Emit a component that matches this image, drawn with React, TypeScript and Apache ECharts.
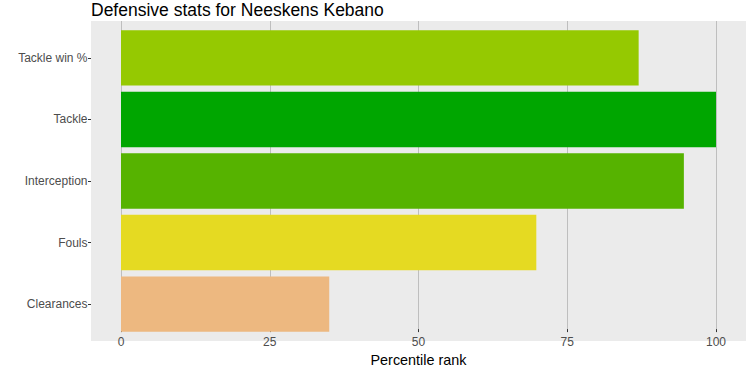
import React, { useEffect, useRef } from "react";
import * as echarts from "echarts";

const categories = ["Tackle win %", "Tackle", "Interception", "Fouls", "Clearances"];
const values = [87, 100, 94.6, 69.8, 35];
const barColors = ["#95C901", "#00A600", "#56B300", "#E5DA22", "#EDB880"];
const xTicks = [0, 25, 50, 75, 100];

const FONT = "'Liberation Sans', Arial, Helvetica, sans-serif";

export default function App() {
  const ref = useRef<HTMLDivElement>(null);
  useEffect(() => {
    if (!ref.current) return;
    const chart = echarts.init(ref.current, undefined, { renderer: "svg" });
    const panelTop = 21;
    const panelH = 320;
    const u = panelH / (categories.length - 1 + 1.2);
    const bandTop = panelTop + 0.1 * u;
    const bandH = categories.length * u;
    const xMin = -5.042;
    const xMax = 105.042;
    chart.setOption({
      animation: false,
      textStyle: { fontFamily: FONT },
      title: {
        text: "Defensive stats for Neeskens Kebano",
        left: 91,
        top: 1,
        padding: 0,
        textStyle: { fontSize: 17.5, fontWeight: "normal", color: "#000", fontFamily: FONT },
      },
      grid: [
        { left: 91, top: panelTop, width: 655, height: panelH, show: true, backgroundColor: "#EBEBEB", borderWidth: 0 },
        { left: 121, top: panelTop, width: 595, height: panelH },
        { left: 91, top: bandTop, width: 655, height: bandH },
      ],
      xAxis: [
        { type: "value", gridIndex: 0, show: false, min: 0, max: 1 },
        {
          type: "value",
          gridIndex: 1,
          min: 0,
          max: 100,
          interval: 25,
          axisLine: { show: false, onZero: false },
          axisTick: { show: true, length: 3, lineStyle: { color: "#333333" } },
          axisLabel: {
            color: "#4D4D4D",
            fontSize: 12,
            margin: 7,
            fontFamily: FONT,
            customValues: xTicks,
          },
          splitLine: { show: true, lineStyle: { color: "#BEBEBE", width: 1 } },
          name: "Percentile rank",
          nameLocation: "middle",
          nameGap: 20,
          nameTextStyle: { fontSize: 14.4, color: "#000", fontFamily: FONT },
        },
        { type: "value", gridIndex: 2, show: false, min: xMin, max: xMax },
      ],
      yAxis: [
        { type: "value", gridIndex: 0, show: false, min: 0, max: 1 },
        { type: "value", gridIndex: 1, show: false, min: 0, max: 1 },
        {
          type: "category",
          gridIndex: 2,
          data: categories,
          inverse: true,
          axisLine: { show: false, onZero: false },
          axisTick: { show: true, length: 3, alignWithLabel: true, lineStyle: { color: "#333333" } },
          axisLabel: { color: "#4D4D4D", fontSize: 12, margin: 3.5, fontFamily: FONT },
          splitLine: { show: false },
        },
      ],
      series: [
        {
          type: "bar",
          xAxisIndex: 2,
          yAxisIndex: 2,
          barCategoryGap: "10%",
          data: values.map((v, i) => ({ value: v, itemStyle: { color: barColors[i] } })),
        },
      ],
    });
    return () => chart.dispose();
  }, []);
  return (
    <div
      ref={ref}
      style={{ position: "absolute", left: 0, top: 0, width: 750, height: 372, background: "#fff" }}
    />
  );
}
